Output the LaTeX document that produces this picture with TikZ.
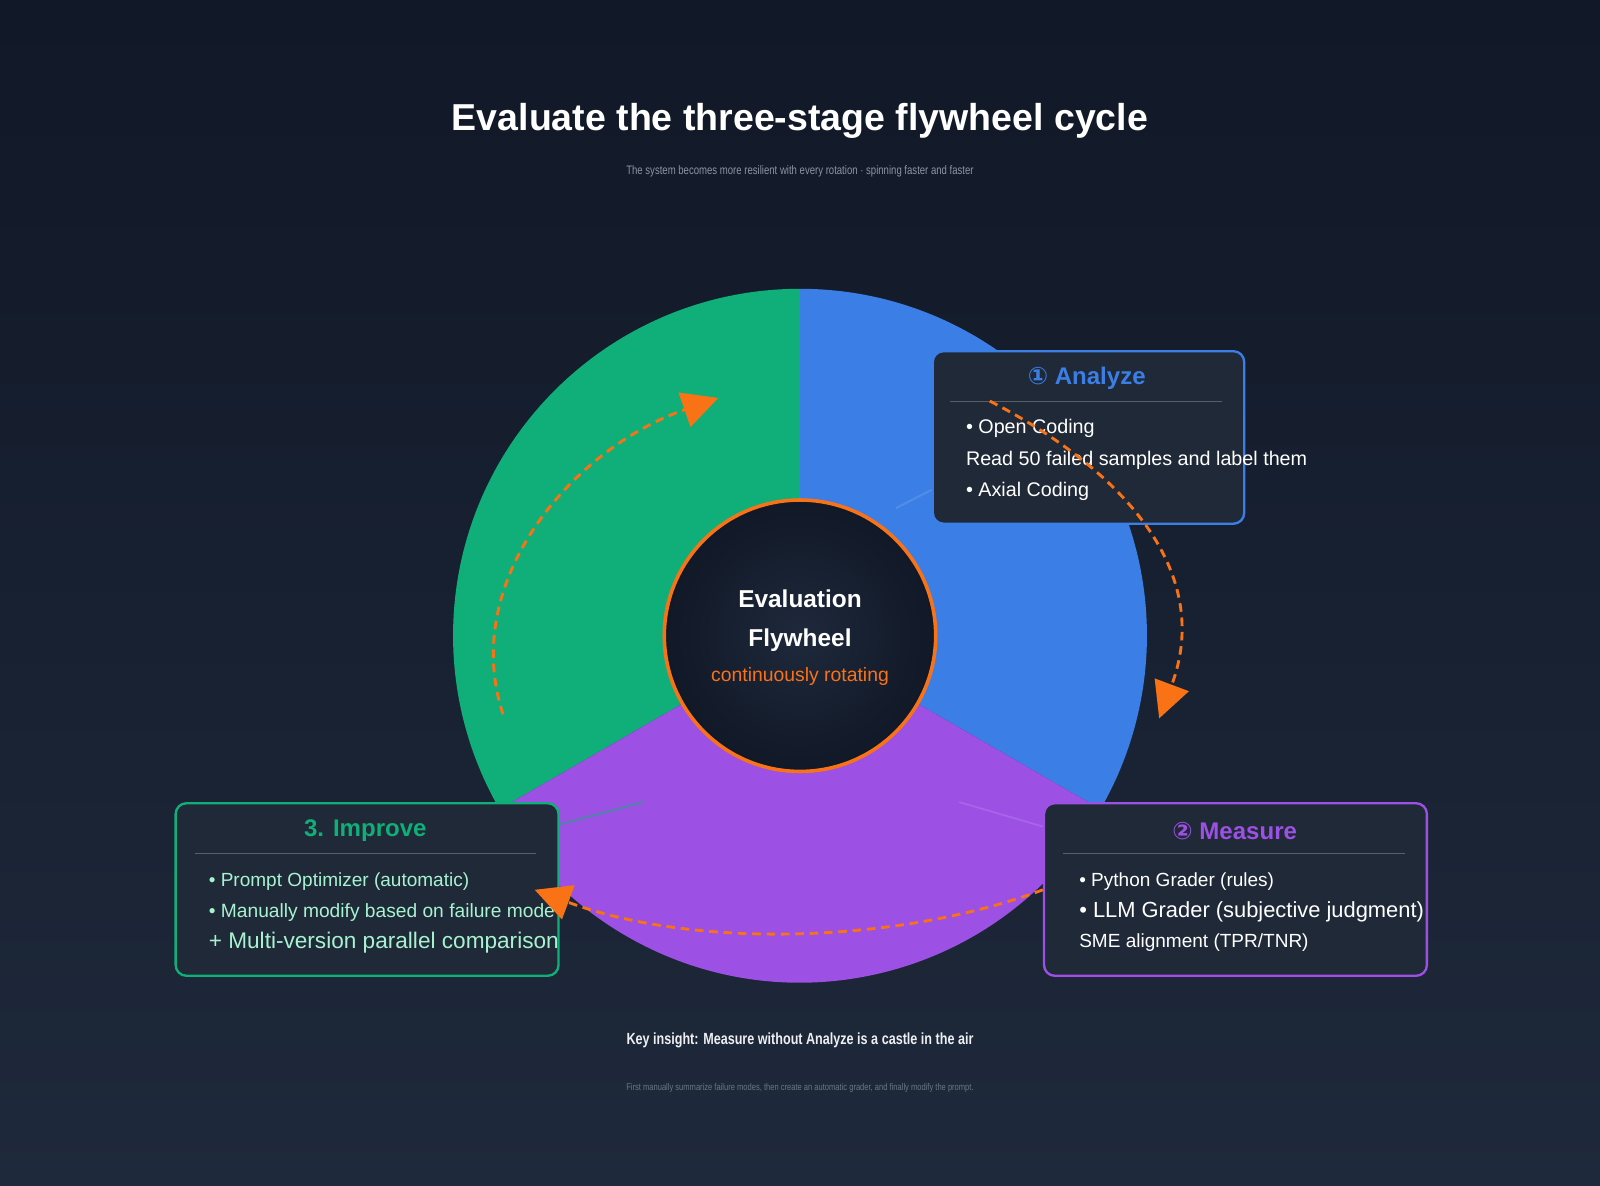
\documentclass[tikz,border=0pt]{standalone}
\usepackage{fontspec}
\setmainfont{Liberation Sans}
\newfontfamily\symfont{DejaVu Sans}
\usetikzlibrary{arrows.meta,shapes}
\definecolor{bgtop}{HTML}{111827}
\definecolor{bgbot}{HTML}{1E293B}
\definecolor{boxfill}{HTML}{1F2937}
\definecolor{cblue}{HTML}{3B7FE6}
\definecolor{cgreen}{HTML}{10AE78}
\definecolor{cpurple}{HTML}{9C50E4}
\definecolor{corange}{HTML}{F97316}
\definecolor{lgreen}{HTML}{A7F3D0}
\definecolor{sub}{HTML}{8B95A5}

\begin{document}
\begin{tikzpicture}[x=0.01cm, y=-0.01cm]
    \tikzstyle{panel} = [rectangle, draw, line width=0.65pt, fill=boxfill, rounded corners=3pt, minimum width=3.05cm, minimum height=1.69cm, inner sep=0pt]
    \tikzstyle{head} = [font=\fontsize{6.7}{7}\selectfont\bfseries]
    \tikzstyle{item} = [anchor=west, text=white, font=\fontsize{5.5}{6}\selectfont, inner sep=0pt]
    \tikzstyle{line} = [draw, corange, line width=0.8pt, dash pattern=on 2.4pt off 1.6pt, -{Triangle[length=10pt, width=10pt]}]
    \tikzstyle{link} = [draw, line width=0.5pt, opacity=0.6]

    % background
    \shade[top color=bgtop, bottom color=bgbot] (0,0) rectangle (1568,1162);
    \useasboundingbox (0,0) rectangle (1568,1162);

    \node [text=white, font=\fontsize{10.45}{13}\selectfont\bfseries] (title) at (784,118) {Evaluate the three-stage flywheel cycle};
    \node [text=sub, font=\fontsize{3.42}{5}\selectfont, xscale=0.78] (subtitle) at (784,168) {The system becomes more resilient with every rotation · spinning faster and faster};

    % wheel
    \coordinate (hub) at (784,623);
    \fill [cgreen] (hub) -- ++(-90:340) arc[start angle=-90, end angle=-210, radius=340] -- cycle;
    \fill [cblue] (hub) -- ++(-90:340) arc[start angle=-90, end angle=30, radius=340] -- cycle;
    \fill [cpurple] (hub) -- ++(30:340) arc[start angle=30, end angle=150, radius=340] -- cycle;

    \shade [inner color=bgbot, outer color=bgtop] (hub) circle (133);
    \draw [corange, line width=1pt] (hub) circle (133);
    \node [text=white, font=\fontsize{6.8}{10.8}\selectfont\bfseries, align=center] (core) at (784,608) {Evaluation\\Flywheel};
    \node [text=corange, font=\fontsize{5.4}{6}\selectfont] (rot) at (784,663) {continuously rotating};

    % stage panels
    \node [panel, draw=cblue, anchor=north west] (analyze) at (913,343) {};
    \node [head, text=cblue] (analyze head) at (1065,371) {{\symfont ①} Analyze};
    \draw [white!25!boxfill, line width=0.3pt] (931,393) -- (1198,393);
    \node [item] (a1) at (946,420) {• Open Coding};
    \node [item] (a2) at (946,451) {Read 50 failed samples and label them};
    \node [item] (a3) at (946,482) {• Axial Coding};

    \node [panel, draw=cpurple, anchor=north west, minimum width=3.75cm] (measure) at (1022,786) {};
    \node [head, text=cpurple] (measure head) at (1210,814) {{\symfont ②} Measure};
    \draw [white!25!boxfill, line width=0.3pt] (1042,836) -- (1377,836);
    \node [item, font=\fontsize{5.3}{6}\selectfont] (m1) at (1057,864) {• Python Grader (rules)};
    \node [item, font=\fontsize{6.1}{6}\selectfont] (m2) at (1057,894) {• LLM Grader (subjective judgment)};
    \node [item, font=\fontsize{5.3}{6}\selectfont] (m3) at (1057,924) {SME alignment (TPR/TNR)};

    \node [panel, draw=cgreen, anchor=north west, minimum width=3.75cm] (improve) at (171,786) {};
    \node [head, text=cgreen] (improve head) at (358,814) {3. Improve};
    \draw [white!25!boxfill, line width=0.3pt] (191,836) -- (525,836);
    \node [item, text=lgreen, font=\fontsize{5.3}{6}\selectfont] (i1) at (204,864) {• Prompt Optimizer (automatic)};
    \node [item, text=lgreen, font=\fontsize{5.35}{6}\selectfont] (i2) at (204,894) {• Manually modify based on failure mode};
    \node [item, text=lgreen, font=\fontsize{6.3}{6}\selectfont] (i3) at (204,924) {+ Multi-version parallel comparison};

    % links
    \coordinate (ablue) at (878,498);
    \coordinate (agreen) at (630,786);
    \coordinate (apurple) at (940,786);
    \path [link, cblue!80!white] (ablue) -- (analyze.west |- 0,480);
    \path [link, cgreen] (agreen) -- (improve.east |- 0,808);
    \path [link, cpurple!80!white] (apurple) -- (measure.west |- 0,810);

    % flow
    \coordinate (s1) at (970,393);
    \coordinate (e1) at (1136,704);
    \coordinate (s2) at (1022,872);
    \coordinate (e2) at (524,872);
    \coordinate (s3) at (493,700);
    \coordinate (e3) at (704,390);
    \path [line] (s1) .. controls (1100,460) and (1190,560) .. (e1);
    \path [line] (s2) .. controls (880,925) and (680,930) .. (e2);
    \path [line] (s3) .. controls (450,570) and (560,440) .. (e3);

    \node [text=white!85!sub, font=\fontsize{4.5}{6}\selectfont\bfseries, xscale=0.78] (insight) at (784,1020) {Key insight: Measure without Analyze is a castle in the air};
    \node [text=sub!70!bgbot, font=\fontsize{2.7}{4}\selectfont, xscale=0.78] (note) at (784,1066) {First manually summarize failure modes, then create an automatic grader, and finally modify the prompt.};
\end{tikzpicture}
\end{document}
